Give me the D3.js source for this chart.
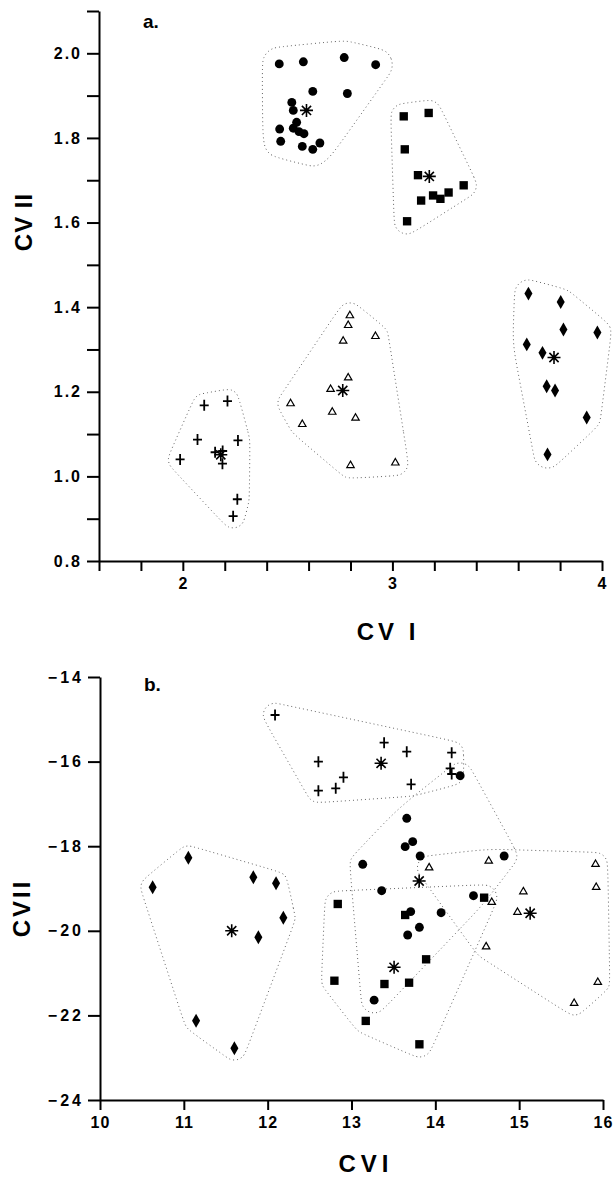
<!DOCTYPE html>
<html>
<head>
<meta charset="utf-8">
<script src="https://cdn.jsdelivr.net/npm/d3@7"></script>
<style>
    body { margin: 0; background: #fff; }
    svg text { font-family: "Liberation Sans", Arial, sans-serif; fill: #000; }
    .tick-label { font-size: 16px; font-weight: bold; }
    .axis-title { font-size: 24px; font-weight: bold; }
    .panel-tag { font-family: "Liberation Sans Narrow", "Arial Narrow", "Liberation Sans", sans-serif; font-size: 19px; font-weight: bold; }
    .hull { fill: none; stroke: #666; stroke-width: 1; stroke-dasharray: 1 3; }
</style>
</head>
<body>
<div id="viz_container"></div>
<script>
// ---- panel a : CV I vs CV II ----
const aCircles = [[2.46, 1.975], [2.575, 1.98], [2.77, 1.99], [2.92, 1.973], [2.62, 1.91], [2.785, 1.905],
    [2.52, 1.884], [2.527, 1.865], [2.462, 1.821], [2.543, 1.837], [2.527, 1.823], [2.554, 1.815],
    [2.578, 1.81], [2.467, 1.792], [2.57, 1.78], [2.62, 1.773], [2.654, 1.788]];
const aSquares = [[3.054, 1.851], [3.173, 1.859], [3.059, 1.773], [3.122, 1.712], [3.34, 1.688], [3.268, 1.671],
    [3.194, 1.664], [3.229, 1.656], [3.137, 1.652], [3.07, 1.603]];
const aTriangles = [[2.797, 1.38], [2.789, 1.357], [2.765, 1.32], [2.919, 1.331], [2.789, 1.233], [2.705, 1.206],
    [2.713, 1.152], [2.824, 1.138], [2.57, 1.123], [2.8, 1.026], [3.014, 1.032], [2.514, 1.172]];
const aDiamonds = [[3.649, 1.432], [3.803, 1.412], [3.816, 1.347], [3.978, 1.34], [3.641, 1.312], [3.716, 1.292],
    [3.736, 1.213], [3.776, 1.203], [3.927, 1.139], [3.74, 1.052]];
const aCrosses = [[2.102, 1.168], [2.213, 1.178], [2.07, 1.087], [2.263, 1.085], [1.987, 1.04], [2.154, 1.057],
    [2.19, 1.06], [2.189, 1.03], [2.26, 0.946], [2.24, 0.906]];
const aCentroids = [[2.59, 1.865], [3.176, 1.709], [2.763, 1.203], [3.771, 1.281], [2.181, 1.051]];

const aXTicks = [1.6, 1.8, 2.0, 2.2, 2.4, 2.6, 2.8, 3.0, 3.2, 3.4, 3.6, 3.8, 4.0];
const aXLabels = [2, 3, 4];
const aYTicks = [0.8, 0.9, 1.0, 1.1, 1.2, 1.3, 1.4, 1.5, 1.6, 1.7, 1.8, 1.9, 2.0, 2.1];
const aYLabels = [0.8, 1.0, 1.2, 1.4, 1.6, 1.8, 2.0];

// ---- panel b : CV I vs CV II ----
const bCrosses = [[12.088, -14.898], [12.605, -16.002], [12.605, -16.688], [12.812, -16.632], [12.904, -16.372],
    [13.389, -15.553], [13.659, -15.765], [13.711, -16.537], [14.195, -15.789], [14.177, -16.159], [14.195, -16.293]];
const bCircles = [[14.296, -16.333], [13.659, -17.34], [13.73, -17.893], [13.64, -18.011], [13.819, -18.232],
    [13.134, -18.428], [13.36, -19.052], [14.455, -19.17], [13.706, -19.548], [14.069, -19.572], [13.81, -19.917],
    [13.67, -20.099], [13.27, -21.64], [14.821, -18.232]];
const bSquares = [[12.836, -19.366], [14.582, -19.217], [13.64, -19.626], [13.89, -20.674], [12.796, -21.18],
    [13.393, -21.258], [13.687, -21.227], [13.17, -22.13], [13.81, -22.683]];
const bTriangles = [[13.926, -18.508], [14.637, -18.35], [15.911, -18.428], [15.05, -19.075], [15.919, -18.972],
    [14.98, -19.563], [14.673, -19.326], [14.606, -20.376], [15.938, -21.218], [15.656, -21.714]];
const bDiamonds = [[11.054, -18.272], [10.628, -18.972], [11.829, -18.735], [12.1, -18.877], [12.187, -19.69],
    [11.889, -20.154], [11.146, -22.125], [11.603, -22.778]];
const bCentroids = [[13.353, -16.04], [13.807, -18.823], [13.508, -20.863], [15.131, -19.586], [11.571, -19.998]];

const bXTicks = [10, 11, 12, 13, 14, 15, 16];
const bYTicks = [-24, -22, -20, -18, -16, -14];

// marker shapes
const markerPaths = {
    circle: d3.symbol(d3.symbolCircle, 62)(),
    square: d3.symbol(d3.symbolSquare, 70)(),
    diamond: d3.symbol(d3.symbolDiamond, 56)(),
    triangle: d3.symbol(d3.symbolTriangle, 24)(),
    plus: "M-4.5,0H4.5M0,-5.5V5.5",
    star: "M-6.5,0H6.5M0,-6.5V6.5M-4.6,-4.6L4.6,4.6M-4.6,4.6L4.6,-4.6"
};

const svg = d3.select("#viz_container")
    .append("svg")
    .attr("width", 614)
    .attr("height", 1178)
    .attr("viewBox", "0 0 614 1178");

svg.append("rect").attr("width", 614).attr("height", 1178).attr("fill", "#fff");

// dotted outline round a group: hull of the points grown by pad px, then smoothed
function hullPath(points, x, y, pad) {
    const pts = [];
    points.forEach(d => {
        for (let i = 0; i < 16; i++) {
            const a = i / 16 * 2 * Math.PI;
            pts.push([x(d[0]) + pad * Math.cos(a), y(d[1]) + pad * Math.sin(a)]);
        }
    });
    const hull = d3.polygonHull(pts);
    // put extra knots along long edges so the spline keeps close to the hull
    const knots = [];
    hull.forEach((p, i) => {
        const q = hull[(i + 1) % hull.length];
        const n = Math.max(1, Math.round(Math.hypot(q[0] - p[0], q[1] - p[1]) / 30));
        for (let k = 0; k < n; k++) {
            knots.push([p[0] + (q[0] - p[0]) * k / n, p[1] + (q[1] - p[1]) * k / n]);
        }
    });
    return d3.line().curve(d3.curveBasisClosed)(knots);
}

function drawMarkers(g, points, shape, x, y) {
    const open = shape === "plus" || shape === "star" || shape === "triangle";
    g.append("g")
        .selectAll("path")
        .data(points)
        .join("path")
        .attr("transform", d => `translate(${x(d[0])},${y(d[1])})`)
        .attr("d", markerPaths[shape])
        .attr("fill", shape === "triangle" ? "#fff" : (open ? "none" : "#000"))
        .attr("stroke", open ? "#000" : "none")
        .attr("stroke-width", shape === "triangle" ? 1.2 : (shape === "star" ? 1.6 : 1.8));
}

function styleAxis(g, spacing) {
    g.selectAll("path, line").attr("stroke", "#000").attr("stroke-width", 2);
    g.selectAll("text").attr("class", "tick-label").style("letter-spacing", spacing + "px");
}

function drawPanel(cfg) {
    const g = svg.append("g");

    // outlines first
    cfg.groups.forEach(grp => {
        g.append("path")
            .attr("class", "hull")
            .attr("d", hullPath(grp.points.concat([cfg.centroids[grp.c]]), cfg.x, cfg.y, grp.pad));
    });

    // axes
    g.append("g")
        .attr("transform", `translate(0, ${cfg.y.range()[0]})`)
        .call(d3.axisBottom(cfg.x).tickValues(cfg.xTicks).tickSize(10).tickSizeOuter(0).tickPadding(7)
            .tickFormat(cfg.xFormat))
        .call(a => styleAxis(a, 1));

    g.append("g")
        .attr("transform", `translate(${cfg.x.range()[0]}, 0)`)
        .call(d3.axisLeft(cfg.y).tickValues(cfg.yTicks).tickSize(12).tickSizeOuter(0).tickPadding(7 - cfg.spacing)
            .tickFormat(cfg.yFormat))
        .call(a => styleAxis(a, cfg.spacing));

    // points and group centroids
    cfg.groups.forEach(grp => drawMarkers(g, grp.points, grp.shape, cfg.x, cfg.y));
    drawMarkers(g, cfg.centroids, "star", cfg.x, cfg.y);

    // panel letter
    g.append("text")
        .attr("class", "panel-tag")
        .attr("x", cfg.x.range()[0] + 44)
        .attr("y", cfg.tagY)
        .text(cfg.tag);

    // axis titles
    g.append("text")
        .attr("class", "axis-title")
        .attr("text-anchor", "middle")
        .attr("x", cfg.xTitle[0])
        .attr("y", cfg.xTitle[1])
        .style("letter-spacing", cfg.xTitleSpacing + "px")
        .text(cfg.xTitleText);

    g.append("text")
        .attr("class", "axis-title")
        .attr("text-anchor", "middle")
        .attr("transform", `translate(${cfg.yTitle[0]}, ${cfg.yTitle[1]}) rotate(-90)`)
        .style("letter-spacing", cfg.yTitleSpacing + "px")
        .text(cfg.yTitleText);
}

// panel a
const xA = d3.scaleLinear().domain([1.6, 4.0]).range([99, 602]);
const yA = d3.scaleLinear().domain([0.8, 2.1]).range([561, 11]);
drawPanel({
    x: xA, y: yA,
    xTicks: aXTicks, yTicks: aYTicks,
    xFormat: d => aXLabels.includes(d) ? d3.format("d")(d) : "",
    yFormat: d => aYLabels.includes(d) ? d3.format(".1f")(d) : "",
    spacing: 2,
    centroids: aCentroids,
    groups: [
        { shape: "circle", points: aCircles, c: 0, pad: 17 },
        { shape: "square", points: aSquares, c: 1, pad: 13 },
        { shape: "triangle", points: aTriangles, c: 2, pad: 13 },
        { shape: "diamond", points: aDiamonds, c: 3, pad: 14 },
        { shape: "plus", points: aCrosses, c: 4, pad: 12 }
    ],
    tag: "a.", tagY: 28,
    xTitle: [388, 640], xTitleText: "CV I", xTitleSpacing: 4,
    yTitle: [32, 222], yTitleText: "CV II", yTitleSpacing: 1
});

// panel b
const xB = d3.scaleLinear().domain([10, 16]).range([100, 603]);
const yB = d3.scaleLinear().domain([-24, -14]).range([1100, 677]);
drawPanel({
    x: xB, y: yB,
    xTicks: bXTicks, yTicks: bYTicks,
    xFormat: d3.format("d"),
    yFormat: d => "\u2212" + Math.abs(d),
    spacing: 3,
    centroids: bCentroids,
    groups: [
        { shape: "plus", points: bCrosses, c: 0, pad: 12 },
        { shape: "circle", points: bCircles, c: 1, pad: 13 },
        { shape: "square", points: bSquares, c: 2, pad: 13 },
        { shape: "triangle", points: bTriangles, c: 3, pad: 12 },
        { shape: "diamond", points: bDiamonds, c: 4, pad: 12 }
    ],
    tag: "b.", tagY: 691,
    xTitle: [366, 1172], xTitleText: "CVI", xTitleSpacing: 5,
    yTitle: [30, 908], yTitleText: "CVII", yTitleSpacing: 3
});
</script>
</body>
</html>
